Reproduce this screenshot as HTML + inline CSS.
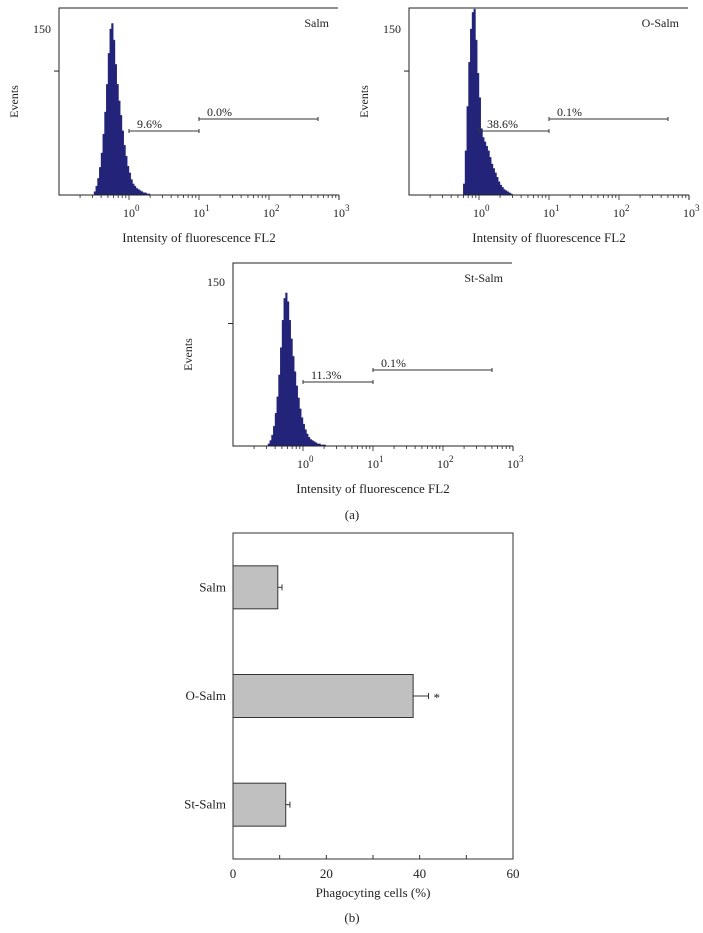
<!DOCTYPE html>
<html><head><meta charset="utf-8"><style>
html,body{margin:0;padding:0;background:#fff;}
svg{display:block;font-family:"Liberation Serif",serif;}
</style></head><body>
<svg id="fig" width="703" height="933" viewBox="0 0 703 933"></svg>
<script>
// ---- histogram data (counts per log10 bin, step 0.025) ----
const salmStart = -0.5;
const salmCounts = [3,8,15,25,38,55,75,100,128,150,155,140,118,100,85,72,58,45,35,26,20,14,10,8,6,5,4,3,2,2,1,1];
const oSalmStart = -0.25;
const oSalmCounts = [0,10,40,80,120,150,165,168,140,110,88,60,52,48,44,40,34,28,24,20,16,12,9,7,5,4,3,2,1];
const stSalmStart = -0.5;
const stSalmCounts = [2,5,10,18,30,45,65,90,115,135,140,132,115,98,82,68,55,44,34,26,20,15,11,8,6,5,4,3,2,2,1,1,1];
const histNames = ["Salm","O-Salm","St-Salm"];
const gateLowLabels = ["9.6%","38.6%","11.3%"];
const gateHighLabels = ["0.0%","0.1%","0.1%"];
// ---- bar chart data ----
const barCategories = ["Salm","O-Salm","St-Salm"];
const barValues = [9.6,38.6,11.3];
const barErrors = [0.9,3.3,0.9];
const barStars = ["","*",""];
const xTicks = [0,10,20,30,40,50,60];
const xTickLabels = ["0","","20","","40","","60"];

const NS="http://www.w3.org/2000/svg";
const svg=document.getElementById('fig');
function mk(tag,attrs,parent){const e=document.createElementNS(NS,tag);for(const k in attrs)e.setAttribute(k,attrs[k]);(parent||svg).appendChild(e);return e;}
function txt(s,attrs,parent){const e=mk('text',attrs,parent);e.textContent=s;return e;}

function histPanel(px,top,bottom,y150,startLog,counts,name,gl,gh,idx){
  const g=mk('g',{});
  
  
  const dec=70;
  const xs=v=>px+(v+1)*dec;
  const ys=c=>Math.max(top,bottom-(c/150)*(bottom-y150));
  let d='M'+xs(startLog)+','+bottom;
  counts.forEach((c,i)=>{const x0=xs(startLog+i*0.025),x1=xs(startLog+(i+1)*0.025);d+=' L'+x0+','+ys(c)+' L'+x1+','+ys(c);});
  d+=' L'+xs(startLog+counts.length*0.025)+','+bottom+' Z';
  const h=mk('path',{d:d,fill:'#23237a',stroke:'#23237a','stroke-width':0.4},g);
  
  
  mk('path',{d:`M${px+279},${top} L${px},${top} L${px},${bottom} L${px+280},${bottom}`,fill:'none',stroke:'#222','stroke-width':1},g);
  mk('line',{x1:px-5,x2:px,y1:ys(112),y2:ys(112),stroke:'#222'},g);
  const yl=txt('150',{x:px-8,y:y150+4,'font-size':12,'text-anchor':'end',fill:'#222'},g);
  
  const yt=txt('Events',{x:0,y:0,'font-size':12,'text-anchor':'middle',fill:'#222',transform:`translate(${px-41},${(top+bottom)/2}) rotate(-90)`},g);
  
  for(let e=-1;e<3;e++){for(let m=1;m<10;m++){const v=e+Math.log10(m);if(v<=-1)continue;const x=xs(v);mk('line',{x1:x,x2:x,y1:bottom,y2:bottom+(m===1?5:3),stroke:'#222','stroke-width':0.8},g);}}
  mk('line',{x1:xs(3),x2:xs(3),y1:bottom,y2:bottom+5,stroke:'#222'},g);
  for(let e=0;e<=3;e++){const t=mk('text',{x:xs(e)-6,y:bottom+22,'font-size':12,fill:'#222'},g);t.innerHTML=`10<tspan dy="-6" font-size="9">${e}</tspan>`;
    }
  const xt=txt('Intensity of fluorescence FL2',{x:px+140,y:bottom+47,'font-size':13,'text-anchor':'middle',fill:'#222'},g);
  
  const lbl=txt(name,{x:px+270,y:top+19,'font-size':12,'text-anchor':'end',fill:'#222'},g);
  
  const gy1=bottom-64, gy2=gy1-12;
  function gate(l,r,y,s,nm){const gg=mk('g',{},g);
    mk('line',{x1:xs(l),x2:xs(r),y1:y,y2:y,stroke:'#333','stroke-width':1},gg);
    mk('line',{x1:xs(l),x2:xs(l),y1:y-2,y2:y+2,stroke:'#333'},gg);
    mk('line',{x1:xs(r),x2:xs(r),y1:y-2,y2:y+2,stroke:'#333'},gg);
    txt(s,{x:xs(l)+8,y:y-3,'font-size':12,fill:'#222'},gg);}
  gate(0,1,gy1,gl,'gate-low');
  gate(1,2.7,gy2,gh,'gate-high');
}
histPanel(59,8,195,29,salmStart,salmCounts,histNames[0],gateLowLabels[0],gateHighLabels[0],0);
histPanel(409,8,195,29,oSalmStart,oSalmCounts,histNames[1],gateLowLabels[1],gateHighLabels[1],1);
histPanel(233,263,446,282,stSalmStart,stSalmCounts,histNames[2],gateLowLabels[2],gateHighLabels[2],2);
const pa=txt('(a)',{x:352,y:519,'font-size':13,'text-anchor':'middle',fill:'#222'});


// ---- bar chart ----
const bx0=233,bx1=513,by0=533,by1=859;
const bxs=v=>bx0+(v/60)*(bx1-bx0);
const bg=mk('g',{});


mk('rect',{x:bx0,y:by0,width:bx1-bx0,height:by1-by0,fill:'none',stroke:'#333','stroke-width':1},bg);
const band=(by1-by0)/3;
barCategories.forEach((c,i)=>{
  const yc=by0+band*(i+0.5),bh=43;
  const r=mk('rect',{x:bx0,y:yc-bh/2,width:bxs(barValues[i])-bx0,height:bh,fill:'#c0c0c0',stroke:'#333','stroke-width':1},bg);
  
  
  const xe=bxs(barValues[i]+barErrors[i]);
  mk('line',{x1:bxs(barValues[i]),x2:xe,y1:yc,y2:yc,stroke:'#333'},bg);
  mk('line',{x1:xe,x2:xe,y1:yc-3,y2:yc+3,stroke:'#333'},bg);
  const cl=txt(c,{x:bx0-7,y:yc+4,'font-size':13,'text-anchor':'end',fill:'#222'},bg);
  
  
  if(barStars[i]){const s=txt(barStars[i],{x:xe+5,y:yc+6,'font-size':13,fill:'#222'},bg);}
});
xTicks.forEach((t,i)=>{const x=bxs(t);mk('line',{x1:x,x2:x,y1:by1,y2:by1-4,stroke:'#333'},bg);
  if(xTickLabels[i]){const l=txt(xTickLabels[i],{x:x,y:by1+19,'font-size':13,'text-anchor':'middle',fill:'#222'},bg);
  
  }});
const bt=txt('Phagocyting cells (%)',{x:(bx0+bx1)/2,y:897,'font-size':13,'text-anchor':'middle',fill:'#222'},bg);

const pb=txt('(b)',{x:352,y:922,'font-size':13,'text-anchor':'middle',fill:'#222'});

</script>
</body></html>
